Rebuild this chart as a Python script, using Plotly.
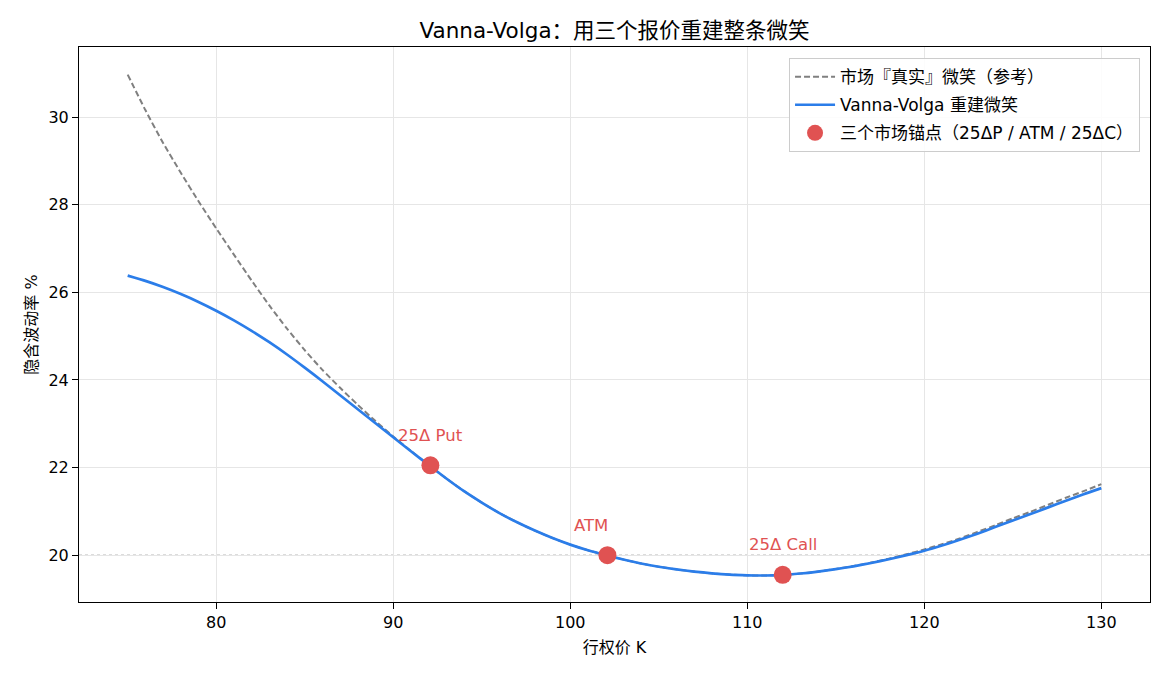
import plotly.graph_objects as go

# ---- data ----
strike_vv = [75, 76, 77, 78, 79, 80, 81, 82, 83, 84, 85, 86, 87, 88, 89, 90, 91, 92,
             93, 94, 95, 96, 97, 98, 99, 100, 101, 102, 103, 104, 105, 106, 107, 108,
             109, 110, 111, 112, 113, 114, 115, 116, 117, 118, 119, 120, 121, 122,
             123, 124, 125, 126, 127, 128, 129, 130]
vol_vv = [26.38, 26.26, 26.12, 25.96, 25.78, 25.58, 25.36, 25.12, 24.86, 24.58, 24.28,
          23.97, 23.65, 23.33, 23.01, 22.69, 22.37, 22.06, 21.75, 21.46, 21.20, 20.96,
          20.75, 20.56, 20.39, 20.24, 20.11, 20.00, 19.90, 19.81, 19.735, 19.675, 19.625,
          19.585, 19.555, 19.54, 19.535, 19.55, 19.58, 19.625, 19.68, 19.745, 19.82,
          19.905, 20.00, 20.10, 20.22, 20.35, 20.49, 20.64, 20.79, 20.94, 21.09, 21.24,
          21.39, 21.53]

strike_mkt = [75, 76, 77, 78, 79, 80, 81, 82, 83, 84, 85, 86, 87, 88, 89, 90, 91, 92,
              93, 94, 95, 96, 97, 98, 99, 100, 101, 102, 103, 104, 105, 106, 107, 108,
              109, 110, 111, 112, 113, 114, 115, 116, 117, 118, 119, 120, 121, 122,
              123, 124, 125, 126, 127, 128, 129, 130]
vol_mkt = [30.97, 30.16, 29.41, 28.73, 28.08, 27.46, 26.86, 26.27, 25.70, 25.17, 24.68,
           24.23, 23.82, 23.43, 23.06, 22.71, 22.38, 22.06, 21.75, 21.46, 21.20, 20.96,
           20.75, 20.56, 20.39, 20.24, 20.11, 20.00, 19.90, 19.81, 19.735, 19.675, 19.625,
           19.585, 19.555, 19.54, 19.535, 19.55, 19.58, 19.625, 19.685, 19.75, 19.83,
           19.92, 20.02, 20.13, 20.25, 20.38, 20.53, 20.68, 20.84, 20.99, 21.15, 21.31,
           21.46, 21.62]

anchor_strike = [92.1, 102.1, 112.0]
anchor_vol = [22.05, 20.0, 19.55]
anchor_label = ["25Δ Put", "ATM", "25Δ Call"]
anchor_text_shift = [0, -16, 0]

x_ticks = [80, 90, 100, 110, 120, 130]
y_ticks = [20, 22, 24, 26, 28, 30]

FONT = "DejaVu Sans, Noto Sans CJK SC, sans-serif"
RED = "#e05252"
BLUE = "#2b7de9"
GRAY = "#808080"

fig = go.Figure()
fig.add_trace(go.Scatter(
    x=strike_mkt, y=vol_mkt, mode="lines", name="市场『真实』微笑（参考）",
    legendgroup="a",
    line=dict(color=GRAY, width=2, dash="6px,3px", shape="spline", smoothing=0.6),
))
fig.add_trace(go.Scatter(
    x=strike_vv, y=vol_vv, mode="lines", name="Vanna-Volga 重建微笑",
    legendgroup="b",
    line=dict(color=BLUE, width=2.7, shape="spline", smoothing=0.6),
))
fig.add_trace(go.Scatter(
    x=anchor_strike, y=anchor_vol, mode="markers",
    name="三个市场锚点（25ΔP / ATM / 25ΔC）", legendgroup="c",
    marker=dict(color=RED, size=18, line=dict(width=0)),
))

for k, v, lab, dx in zip(anchor_strike, anchor_vol, anchor_label, anchor_text_shift):
    fig.add_annotation(x=k, y=v, text=lab, showarrow=True, arrowwidth=0.1,
                       arrowcolor="rgba(0,0,0,0)", ax=dx, ay=-30,
                       font=dict(color=RED, size=16.5, family=FONT))

fig.add_shape(type="line", xref="paper", x0=0, x1=1, yref="y", y0=20, y1=20,
              line=dict(color="#a0a0a0", width=1, dash="dot"), layer="below")

axis_common = dict(
    showline=True, linecolor="black", linewidth=1, mirror=True,
    ticks="outside", ticklen=6, tickcolor="black", tickwidth=1,
    showgrid=True, gridcolor="#e6e6e6", gridwidth=1, zeroline=False,
    tickfont=dict(size=16, color="black", family=FONT),
)

fig.update_layout(
    width=1170, height=676,
    margin=dict(l=79, r=20, t=47, b=74),
    paper_bgcolor="white", plot_bgcolor="white",
    font=dict(family=FONT, color="black"),
    title=dict(text="Vanna-Volga：用三个报价重建整条微笑", x=0.5, xref="paper",
               xanchor="center", y=1 - 30 / 676, yanchor="middle",
               font=dict(size=21.5, family=FONT)),
    xaxis=dict(range=[72.25, 132.75], tickvals=x_ticks,
               title=dict(text="行权价 K", font=dict(size=16), standoff=10), **axis_common),
    yaxis=dict(range=[18.93, 31.6], tickvals=y_ticks,
               title=dict(text="隐含波动率 %", font=dict(size=16), standoff=6), **axis_common),
    legend=dict(x=0.9907, y=0.98, xanchor="right", yanchor="top",
                bgcolor="rgba(255,255,255,0.85)", bordercolor="#cccccc", borderwidth=1,
                font=dict(size=17, family=FONT), itemwidth=40,
                traceorder="grouped", tracegroupgap=3),
    showlegend=True,
)

fig.write_html("out.html")
